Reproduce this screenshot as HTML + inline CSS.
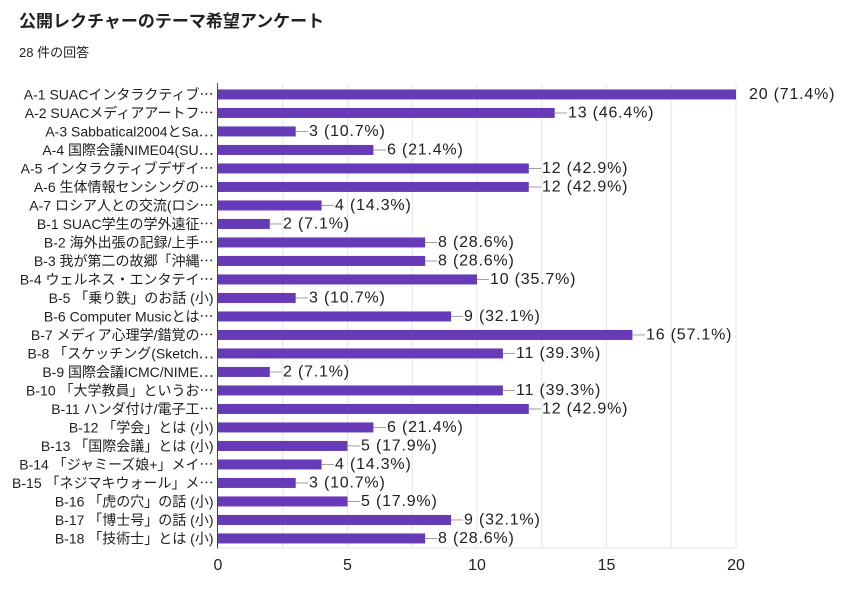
<!DOCTYPE html>
<html>
<head>
<meta charset="utf-8">
<style>
html,body{margin:0;padding:0;background:#fff;}
svg{display:block;}
text{font-family:"Liberation Sans","Noto Sans CJK JP",sans-serif;fill:#212121;}
.lab{font-size:14px;}
.val{font-size:16px;letter-spacing:0.8px;}
.tick{font-size:16px;}
.el{font-family:"Noto Sans CJK JP",sans-serif;}
</style>
</head>
<body>
<svg width="846" height="590" viewBox="0 0 846 590" xmlns="http://www.w3.org/2000/svg">
<rect width="846" height="590" fill="#fff"/>
<text x="19" y="27" style="font-size:17px;font-weight:bold;">公開レクチャーのテーマ希望アンケート</text>
<text x="19" y="57" style="font-size:13px;">28 件の回答</text>

<!-- gridlines -->
<g stroke="#e6e6e6" stroke-width="1">
<line x1="282.75" y1="84" x2="282.75" y2="548"/>
<line x1="347.5" y1="84" x2="347.5" y2="548"/>
<line x1="412.25" y1="84" x2="412.25" y2="548"/>
<line x1="477" y1="84" x2="477" y2="548"/>
<line x1="541.75" y1="84" x2="541.75" y2="548"/>
<line x1="606.5" y1="84" x2="606.5" y2="548"/>
<line x1="671.25" y1="84" x2="671.25" y2="548"/>
<line x1="736" y1="84" x2="736" y2="548"/>
<line x1="218" y1="548" x2="736" y2="548"/>
</g>

<!-- bars -->
<g fill="#673ab7">
<rect x="218" y="89.45" width="518" height="10"/>
<rect x="218" y="107.95" width="336.7" height="10"/>
<rect x="218" y="126.45" width="77.7" height="10"/>
<rect x="218" y="144.95" width="155.4" height="10"/>
<rect x="218" y="163.45" width="310.8" height="10"/>
<rect x="218" y="181.95" width="310.8" height="10"/>
<rect x="218" y="200.45" width="103.6" height="10"/>
<rect x="218" y="218.95" width="51.8" height="10"/>
<rect x="218" y="237.45" width="207.2" height="10"/>
<rect x="218" y="255.95" width="207.2" height="10"/>
<rect x="218" y="274.45" width="259" height="10"/>
<rect x="218" y="292.95" width="77.7" height="10"/>
<rect x="218" y="311.45" width="233.1" height="10"/>
<rect x="218" y="329.95" width="414.4" height="10"/>
<rect x="218" y="348.45" width="284.9" height="10"/>
<rect x="218" y="366.95" width="51.8" height="10"/>
<rect x="218" y="385.45" width="284.9" height="10"/>
<rect x="218" y="403.95" width="310.8" height="10"/>
<rect x="218" y="422.45" width="155.4" height="10"/>
<rect x="218" y="440.95" width="129.5" height="10"/>
<rect x="218" y="459.45" width="103.6" height="10"/>
<rect x="218" y="477.95" width="77.7" height="10"/>
<rect x="218" y="496.45" width="129.5" height="10"/>
<rect x="218" y="514.95" width="233.1" height="10"/>
<rect x="218" y="533.45" width="207.2" height="10"/>
</g>

<!-- axis -->
<line x1="217.5" y1="83" x2="217.5" y2="548.5" stroke="#444" stroke-width="1"/>

<!-- connectors -->
<g stroke="#9e9e9e" stroke-width="1">
<line x1="554.7" y1="112.95" x2="567" y2="112.95"/>
<line x1="295.7" y1="131.45" x2="308" y2="131.45"/>
<line x1="373.4" y1="149.95" x2="386" y2="149.95"/>
<line x1="528.8" y1="168.45" x2="541" y2="168.45"/>
<line x1="528.8" y1="186.95" x2="541" y2="186.95"/>
<line x1="321.6" y1="205.45" x2="334" y2="205.45"/>
<line x1="269.8" y1="223.95" x2="282" y2="223.95"/>
<line x1="425.2" y1="242.45" x2="437" y2="242.45"/>
<line x1="425.2" y1="260.95" x2="437" y2="260.95"/>
<line x1="477" y1="279.45" x2="489" y2="279.45"/>
<line x1="295.7" y1="297.95" x2="308" y2="297.95"/>
<line x1="451.1" y1="316.45" x2="463" y2="316.45"/>
<line x1="632.4" y1="334.95" x2="645" y2="334.95"/>
<line x1="502.9" y1="353.45" x2="515" y2="353.45"/>
<line x1="269.8" y1="371.95" x2="282" y2="371.95"/>
<line x1="502.9" y1="390.45" x2="515" y2="390.45"/>
<line x1="528.8" y1="408.95" x2="541" y2="408.95"/>
<line x1="373.4" y1="427.45" x2="386" y2="427.45"/>
<line x1="347.5" y1="445.95" x2="360" y2="445.95"/>
<line x1="321.6" y1="464.45" x2="334" y2="464.45"/>
<line x1="295.7" y1="482.95" x2="308" y2="482.95"/>
<line x1="347.5" y1="501.45" x2="360" y2="501.45"/>
<line x1="451.1" y1="519.95" x2="463" y2="519.95"/>
<line x1="425.2" y1="538.45" x2="437" y2="538.45"/>
</g>

<!-- value labels -->
<g class="val" dominant-baseline="central">
<text class="val" x="749" y="94.45" dominant-baseline="central">20 (71.4%)</text>
<text class="val" x="568" y="112.95" dominant-baseline="central">13 (46.4%)</text>
<text class="val" x="309" y="131.45" dominant-baseline="central">3 (10.7%)</text>
<text class="val" x="387" y="149.95" dominant-baseline="central">6 (21.4%)</text>
<text class="val" x="542" y="168.45" dominant-baseline="central">12 (42.9%)</text>
<text class="val" x="542" y="186.95" dominant-baseline="central">12 (42.9%)</text>
<text class="val" x="335" y="205.45" dominant-baseline="central">4 (14.3%)</text>
<text class="val" x="283" y="223.95" dominant-baseline="central">2 (7.1%)</text>
<text class="val" x="438" y="242.45" dominant-baseline="central">8 (28.6%)</text>
<text class="val" x="438" y="260.95" dominant-baseline="central">8 (28.6%)</text>
<text class="val" x="490" y="279.45" dominant-baseline="central">10 (35.7%)</text>
<text class="val" x="309" y="297.95" dominant-baseline="central">3 (10.7%)</text>
<text class="val" x="464" y="316.45" dominant-baseline="central">9 (32.1%)</text>
<text class="val" x="646" y="334.95" dominant-baseline="central">16 (57.1%)</text>
<text class="val" x="516" y="353.45" dominant-baseline="central">11 (39.3%)</text>
<text class="val" x="283" y="371.95" dominant-baseline="central">2 (7.1%)</text>
<text class="val" x="516" y="390.45" dominant-baseline="central">11 (39.3%)</text>
<text class="val" x="542" y="408.95" dominant-baseline="central">12 (42.9%)</text>
<text class="val" x="387" y="427.45" dominant-baseline="central">6 (21.4%)</text>
<text class="val" x="361" y="445.95" dominant-baseline="central">5 (17.9%)</text>
<text class="val" x="335" y="464.45" dominant-baseline="central">4 (14.3%)</text>
<text class="val" x="309" y="482.95" dominant-baseline="central">3 (10.7%)</text>
<text class="val" x="361" y="501.45" dominant-baseline="central">5 (17.9%)</text>
<text class="val" x="464" y="519.95" dominant-baseline="central">9 (32.1%)</text>
<text class="val" x="438" y="538.45" dominant-baseline="central">8 (28.6%)</text>
</g>

<!-- category labels -->
<g class="lab" text-anchor="end">
<text class="lab" x="213.5" y="94.45" dominant-baseline="central">A-1 SUACインタラクティブ<tspan class="el">…</tspan></text>
<text class="lab" x="213.5" y="112.95" dominant-baseline="central">A-2 SUACメディアアートフ<tspan class="el">…</tspan></text>
<text class="lab" x="213.5" y="131.45" dominant-baseline="central">A-3 Sabbatical2004とSa<tspan class="el">…</tspan></text>
<text class="lab" x="213.5" y="149.95" dominant-baseline="central">A-4 国際会議NIME04(SU<tspan class="el">…</tspan></text>
<text class="lab" x="213.5" y="168.45" dominant-baseline="central">A-5 インタラクティブデザイ<tspan class="el">…</tspan></text>
<text class="lab" x="213.5" y="186.95" dominant-baseline="central">A-6 生体情報センシングの<tspan class="el">…</tspan></text>
<text class="lab" x="213.5" y="205.45" dominant-baseline="central">A-7 ロシア人との交流(ロシ<tspan class="el">…</tspan></text>
<text class="lab" x="213.5" y="223.95" dominant-baseline="central">B-1 SUAC学生の学外遠征<tspan class="el">…</tspan></text>
<text class="lab" x="213.5" y="242.45" dominant-baseline="central">B-2 海外出張の記録/上手<tspan class="el">…</tspan></text>
<text class="lab" x="213.5" y="260.95" dominant-baseline="central">B-3 我が第二の故郷「沖縄<tspan class="el">…</tspan></text>
<text class="lab" x="213.5" y="279.45" dominant-baseline="central">B-4 ウェルネス・エンタテイ<tspan class="el">…</tspan></text>
<text class="lab" x="213.5" y="297.95" dominant-baseline="central">B-5 「乗り鉄」のお話 (小)</text>
<text class="lab" x="213.5" y="316.45" dominant-baseline="central">B-6 Computer Musicとは<tspan class="el">…</tspan></text>
<text class="lab" x="213.5" y="334.95" dominant-baseline="central">B-7 メディア心理学/錯覚の<tspan class="el">…</tspan></text>
<text class="lab" x="213.5" y="353.45" dominant-baseline="central">B-8 「スケッチング(Sketch<tspan class="el">…</tspan></text>
<text class="lab" x="213.5" y="371.95" dominant-baseline="central">B-9 国際会議ICMC/NIME<tspan class="el">…</tspan></text>
<text class="lab" x="213.5" y="390.45" dominant-baseline="central">B-10 「大学教員」というお<tspan class="el">…</tspan></text>
<text class="lab" x="213.5" y="408.95" dominant-baseline="central">B-11 ハンダ付け/電子工<tspan class="el">…</tspan></text>
<text class="lab" x="213.5" y="427.45" dominant-baseline="central">B-12 「学会」とは (小)</text>
<text class="lab" x="213.5" y="445.95" dominant-baseline="central">B-13 「国際会議」とは (小)</text>
<text class="lab" x="213.5" y="464.45" dominant-baseline="central">B-14 「ジャミーズ娘+」メイ<tspan class="el">…</tspan></text>
<text class="lab" x="213.5" y="482.95" dominant-baseline="central">B-15 「ネジマキウォール」メ<tspan class="el">…</tspan></text>
<text class="lab" x="213.5" y="501.45" dominant-baseline="central">B-16 「虎の穴」の話 (小)</text>
<text class="lab" x="213.5" y="519.95" dominant-baseline="central">B-17 「博士号」の話 (小)</text>
<text class="lab" x="213.5" y="538.45" dominant-baseline="central">B-18 「技術士」とは (小)</text>
</g>

<!-- x ticks -->
<g class="tick" text-anchor="middle">
<text class="tick" x="218" y="570">0</text>
<text class="tick" x="347.5" y="570">5</text>
<text class="tick" x="477" y="570">10</text>
<text class="tick" x="606.5" y="570">15</text>
<text class="tick" x="736" y="570">20</text>
</g>
</svg>
</body>
</html>
